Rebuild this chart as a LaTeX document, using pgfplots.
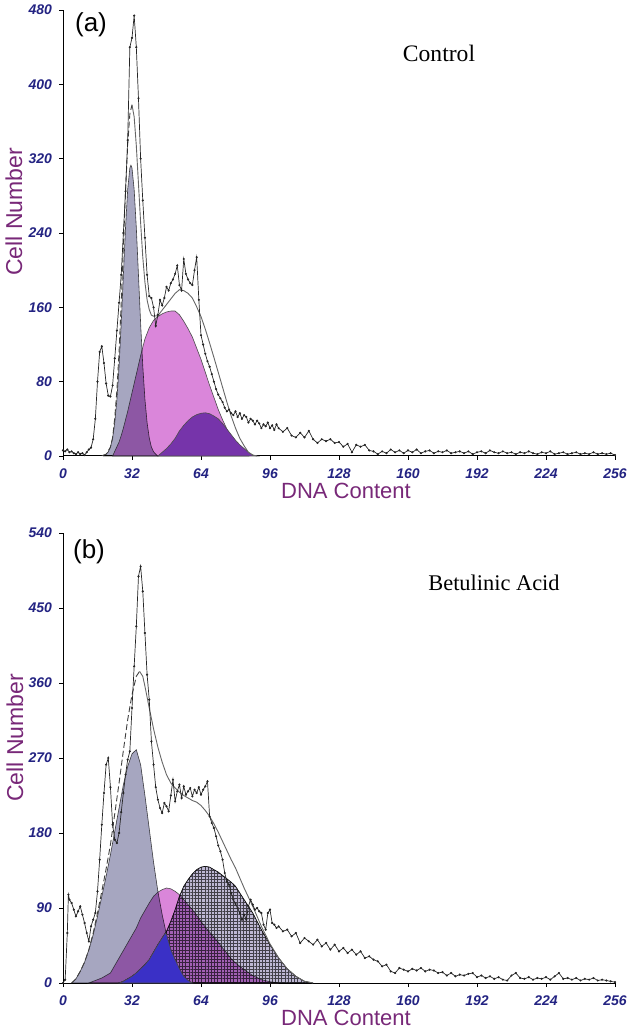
\documentclass[border=0pt]{standalone}
\usepackage{pgfplots}
\pgfplotsset{compat=1.18}
\usetikzlibrary{patterns.meta}
\usepackage{fontspec}
\setmainfont{Liberation Sans}
\newfontfamily\serifx{Liberation Serif}

\definecolor{tickblue}{RGB}{35,35,130}
\definecolor{labpurple}{RGB}{120,40,120}
\definecolor{gone}{RGB}{166,166,192}
\definecolor{spink}{RGB}{218,134,218}
\definecolor{gtwoa}{RGB}{118,52,170}
\definecolor{gtwob}{RGB}{190,184,212}
\definecolor{bluez}{RGB}{58,48,198}

\pgfplotsset{
  flow/.style={
    scale only axis, width=276pt, xmin=0, xmax=256, ymin=0,
    xtick={0,32,...,256},
    axis lines=left, axis line style={-, black, line width=0.5pt},
    tick align=outside, major tick length=2pt,
    tick style={black, line width=0.4pt},
    ticklabel style={font=\fontsize{7}{8}\selectfont\bfseries\itshape, color=tickblue},
    xticklabel style={yshift=-1pt},
    /pgf/number format/assume math mode=true,
    anchor=south west, clip=false,
  },
  hist/.style={black!85, line width=0.35pt, mark=*, mark size=0.35pt, mark options={fill=black}},
  env/.style={black!60, line width=0.45pt},
  envd/.style={black!75, line width=0.45pt, dash pattern=on 3pt off 1.5pt},
  comp/.style={draw=black!70, line width=0.3pt},
  grid fill/.style={postaction={pattern={Hatch[distance=1.6pt, angle=0, line width=0.25pt]}, pattern color=black!65}},
}

\begin{document}
\begin{tikzpicture}
\useasboundingbox (0,0) rectangle (316pt,516.5pt);

% ---------------- (a) Control ----------------
\begin{axis}[flow, at={(31.5pt,288.5pt)}, height=223pt, ymax=480,
  ytick={0,80,...,480}]
  % S phase
  \addplot[comp, fill=spink] table {
    23 0
    24 5
    25 10
    26 15
    27 22
    28 30
    29 39
    30 48
    31 58
    32 68
    33 78
    34 88
    35 98
    36 108
    37 117
    38 126
    39 132
    40 138
    42 146
    44 150
    46 153
    48 155
    50 156
    52 156
    54 152
    56 145
    58 137
    60 128
    62 116
    64 104
    66 90
    68 76
    70 63
    72 50
    74 39
    76 29
    78 20
    80 13
    82 7
    84 3
    86 0
  } \closedcycle;
  % G0/G1
  \addplot[comp, fill=gone, blend mode=multiply] table {
    19 0
    20 2
    21 4.5
    22 9.6
    23 19.5
    24 36
    25 61
    26 97
    27 143
    28 195
    29 246
    30 287
    31 310
    31.5 313
    32 310
    33 287
    34 246
    35 195
    36 143
    37 97
    38 61
    39 36
    40 19.5
    41 9.6
    42 4.5
    43 2
    44 0
  } \closedcycle;
  % G2/M
  \addplot[comp, fill=gtwoa] table {
    44 0
    46 4
    48 8
    50 13
    52 19
    54 27
    56 33
    58 38
    60 42
    62 44.5
    64 46
    66 46.5
    68 45.5
    70 43
    72 40
    74 35
    76 29
    78 23
    80 17
    82 12
    84 8
    86 4
    88 1
    90 0
  } \closedcycle;
  % fitted envelope
  \addplot[envd] table {
    18 0.3
    20 1.9
    22 9.6
    23 19.5
    24 41
    25 71
    26 112
    27 165
    28 225
    29 285
    30 335
    31 368
    32 378
  };
  \addplot[env] table {
    32 378
    33 365
    34 334
    35 293
    36 251
    37 214
    38 187
    39 168
    40 157.5
    41 151.6
    42 150.5
    44 151
    46 157
    48 163
    50 169
    52 175
    54 179
    56 178
    58 175
    60 170
    62 160.5
    64 150
    66 136.5
    68 121.5
    70 106
    72 90
    74 74
    76 58
    78 43
    80 30
    82 19
    84 11
    86 4
    88 1
    90 0
  };
  % histogram
  \addplot[hist] table {
    0 6
    1 5
    2 7
    3 4
    4 5
    5 3
    6 2
    7 4
    8 2
    9 3
    10 1
    11 4
    12 7
    13 9
    14 18
    15 40
    16 80
    17 112
    18 118
    19 100
    20 78
    21 65
    22 64
    23 76
    24 105
    25 135
    26 165
    27 195
    28 240
    29 285
    30 340
    31 440
    32 450
    33 474
    34 440
    35 385
    36 320
    37 275
    38 235
    39 195
    40 172
    41 170
    42 160
    43 140
    44 152
    45 168
    46 162
    47 170
    48 182
    49 178
    50 186
    51 190
    52 196
    53 205
    54 184
    55 178
    56 212
    57 196
    58 190
    59 186
    60 184
    61 200
    62 214
    63 168
    64 130
    65 120
    66 110
    67 102
    68 96
    69 88
    70 80
    71 72
    72 66
    73 62
    74 58
    75 52
    76 48
    77 50
    78 46
    79 44
    80 48
    81 42
    82 46
    83 40
    84 44
    85 42
    86 36
    87 40
    88 38
    89 34
    90 38
    91 35
    92 30
    93 34
    94 32
    95 36
    96 30
    97 33
    98 28
    99 34
    100 30
    102 26
    104 30
    106 22
    108 20
    110 25
    112 20
    114 27
    116 18
    118 14
    120 18
    122 16
    124 18
    126 14
    128 15
    130 10
    132 13
    134 4
    136 12
    138 10
    140 12
    142 6
    144 5
    146 2
    148 5
    150 3
    152 7
    154 4
    156 6
    158 3
    160 6
    162 4
    164 7
    166 3
    168 5
    170 6
    172 3
    174 5
    176 4
    178 6
    180 3
    182 4
    184 5
    186 3
    188 5
    190 2
    192 4
    194 5
    196 3
    198 6
    200 4
    202 3
    204 5
    206 3
    208 4
    210 2
    212 4
    214 3
    216 5
    218 3
    220 2
    222 4
    224 3
    226 5
    228 2
    230 3
    232 4
    234 2
    236 3
    238 4
    240 2
    242 3
    244 2
    246 4
    248 2
    250 3
    252 2
    254 3
    256 1
  };
\end{axis}

% ---------------- (b) Betulinic acid ----------------
\begin{axis}[flow, at={(31.5pt,25pt)}, height=225pt, ymax=540,
  ytick={0,90,...,540}]
  % S phase
  \addplot[comp, fill=spink] table {
    12 0
    14 2
    16 4
    18 6
    20 9
    22 12
    24 21
    26 30
    28 39
    30 48
    32 57
    34 66
    36 78
    38 87
    40 96
    42 104
    44 109
    46 112
    48 114
    50 113
    52 110
    54 106
    56 100
    58 94
    60 88
    62 81
    64 74
    66 67
    68 61
    70 55
    72 49
    74 42
    76 36
    78 29
    80 24
    84 16
    88 9
    92 4
    96 1.5
    100 0
  } \closedcycle;
  % G0/G1
  \addplot[comp, fill=gone, blend mode=multiply] table {
    4 0
    6 5
    8 14
    10 25
    12 40
    14 58
    16 80
    18 104
    20 128
    22 154
    24 182
    26 210
    28 238
    30 260
    32 275
    34 280
    36 262
    38 225
    40 185
    42 145
    44 110
    46 82
    48 58
    50 40
    52 28
    54 17
    56 8
    58 3
    60 0
  } \closedcycle;
  % G2/M
  \addplot[comp, fill=gtwob, blend mode=multiply, grid fill] table {
    26 0
    28 2
    30 5
    32 8
    34 12
    36 17
    38 22
    40 28
    42 37
    44 46
    46 54
    48 62
    50 74
    52 88
    54 104
    56 116
    58 124
    60 131
    62 136
    64 139
    66 140
    68 139
    70 136
    72 133
    74 129
    76 125
    78 121
    80 116
    84 100
    88 84
    92 64
    96 46
    100 30
    104 17
    108 8
    112 2
    116 0
  } \closedcycle;
  % overlap of G1 and G2
  \addplot[comp, fill=bluez] table {
    26 0
    28 2
    30 5
    32 8
    34 12
    36 17
    38 22
    40 28
    42 37
    44 46
    46 54
    47.5 60
    48 58
    50 40
    52 28
    54 17
    56 8
    58 3
    60 0
  } \closedcycle;
  % fitted envelope
  \addplot[envd] table {
    4 0
    6 5
    8 14
    10 25
    12 40
    14 60
    16 84
    18 110
    20 137
    22 166
    24 203
    26 240
    28 279
    30 316
    32 346
    34 368
    35.5 374
  };
  \addplot[env] table {
    35.5 374
    37 368
    38 356
    40 330
    42 305
    44 283
    46 265
    48 250
    50 240
    52 234
    54 229
    56 225
    58 222
    60 219
    62 217
    64 213
    66 207
    68 200
    70 191
    72 181
    74 170
    76 159
    78 148
    80 138
    84 114
    88 92
    92 68
    96 47
    100 30
    104 17
    108 8
    112 2
    116 0
  };
  % histogram
  \addplot[hist] table {
    0 0
    1 4
    2 60
    2.5 106
    3 100
    4 96
    5 88
    6 80
    7 86
    8 92
    9 82
    10 72
    11 60
    12 50
    13 68
    14 76
    15 84
    16 110
    17 148
    18 190
    19 228
    20 262
    21 270
    22 235
    23 190
    24 172
    25 168
    26 180
    27 205
    28 228
    29 250
    30 268
    31 278
    32 330
    33 380
    34 428
    35 488
    36 500
    37 470
    38 420
    39 370
    40 340
    41 290
    42 262
    43 235
    44 220
    45 210
    46 204
    47 216
    48 212
    49 206
    50 225
    51 244
    52 218
    53 230
    54 238
    55 222
    56 236
    57 226
    58 230
    59 234
    60 224
    61 232
    62 228
    63 235
    64 226
    65 232
    66 236
    67 242
    68 200
    69 192
    70 186
    71 176
    72 165
    73 158
    74 148
    75 132
    76 122
    77 118
    78 108
    79 100
    80 95
    81 90
    82 84
    83 76
    84 82
    85 76
    86 92
    87 100
    88 94
    89 88
    90 90
    91 86
    92 84
    93 70
    94 64
    95 84
    96 88
    97 72
    98 70
    99 66
    100 68
    102 62
    104 64
    106 56
    108 60
    110 48
    112 54
    114 50
    116 46
    118 52
    120 44
    122 48
    124 40
    126 46
    128 38
    130 42
    132 36
    134 40
    136 34
    138 38
    140 30
    142 32
    144 28
    146 26
    148 20
    150 22
    152 14
    154 12
    156 18
    158 16
    160 14
    162 17
    164 15
    166 18
    168 14
    170 16
    172 15
    174 12
    176 13
    178 9
    180 12
    182 8
    184 10
    186 9
    188 11
    190 12
    192 7
    194 9
    196 6
    198 8
    200 5
    202 7
    204 4
    206 3
    208 9
    210 12
    212 6
    214 5
    216 7
    218 4
    220 6
    222 5
    224 7
    226 4
    228 8
    230 12
    232 5
    234 6
    236 4
    238 6
    240 3
    242 5
    244 4
    246 6
    248 3
    250 4
    252 3
    254 2
    256 1
  };
\end{axis}

% ---------------- texts ----------------
\node[font=\fontsize{13}{15}\selectfont] at (45.5pt,504pt) {(a)};
\node[font=\fontsize{13}{15}\selectfont] at (44.5pt,240.5pt) {(b)};
\node[font=\serifx\fontsize{11.8}{14}\selectfont] at (219.5pt,490pt) {Control};
\node[font=\serifx\fontsize{11.2}{14}\selectfont] at (247pt,225pt) {Betulinic Acid};
\node[font=\fontsize{11.5}{13}\selectfont, color=labpurple, rotate=90] at (7pt,410.5pt) {Cell Number};
\node[font=\fontsize{11.5}{13}\selectfont, color=labpurple, rotate=90] at (7.5pt,147.5pt) {Cell Number};
\node[font=\fontsize{11}{13}\selectfont, color=labpurple] at (173pt,271pt) {DNA Content};
\node[font=\fontsize{11}{13}\selectfont, color=labpurple] at (173pt,7.5pt) {DNA Content};
\end{tikzpicture}
\end{document}
